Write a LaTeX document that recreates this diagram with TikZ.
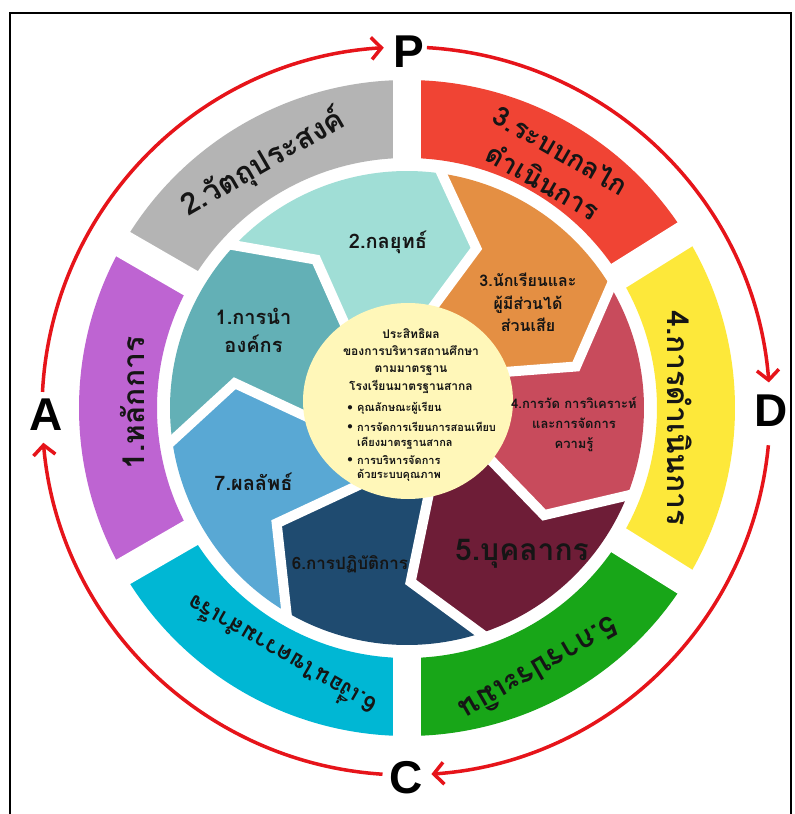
\documentclass[tikz,border=0pt]{standalone}
\usepackage{fontspec}
\setmainfont{Liberation Sans}
\newfontfamily\thai[Script=Thai]{Loma}
\usetikzlibrary{arrows.meta,calc}
\definecolor{cgray}{HTML}{B4B4B4}
\definecolor{cred}{HTML}{F04434}
\definecolor{cyellow}{HTML}{FDE83A}
\definecolor{cgreen}{HTML}{18A618}
\definecolor{ccyan}{HTML}{00B7D4}
\definecolor{cpurple}{HTML}{BE64D2}
\definecolor{iteal}{HTML}{63B0B6}
\definecolor{icyan}{HTML}{A0DED6}
\definecolor{iorange}{HTML}{E48F43}
\definecolor{ipink}{HTML}{C84B5C}
\definecolor{imaroon}{HTML}{6E1D37}
\definecolor{inavy}{HTML}{1F4B70}
\definecolor{iblue}{HTML}{59A8D4}
\definecolor{cyel}{HTML}{FFF7B9}
\definecolor{arrowred}{HTML}{E6141A}
\definecolor{ink}{HTML}{151515}
\begin{document}
\begin{tikzpicture}[x=1pt,y=1pt,
  outerlbl/.style={font=\thai\bfseries\fontsize{30}{36}\selectfont, text=ink, align=center, inner sep=0pt},
  innerlbl/.style={font=\thai\bfseries\fontsize{20}{28}\selectfont, text=ink, align=center, inner sep=0pt},
  midlbl/.style={font=\thai\bfseries\fontsize{16}{22.5}\selectfont, text=ink, align=center, inner sep=0pt},
  smalllbl/.style={font=\thai\bfseries\fontsize{13}{20}\selectfont, text=ink, align=center, inner sep=0pt},
  ctext/.style={font=\thai\bfseries\fontsize{12}{17.3}\selectfont, text=ink, inner sep=0pt},
  btext/.style={font=\thai\bfseries\fontsize{11}{16}\selectfont, text=ink, inner sep=0pt},
  letter/.style={font=\bfseries\fontsize{46}{46}\selectfont, text=black, inner sep=0pt},
  redarc/.style={draw=arrowred, line width=3.5pt, -{Straight Barb[length=10pt,width=22pt]}},
  gapline/.style={white, line width=28pt},
  sepline/.style={white, line width=10pt, line join=miter}
]
\fill[white] (-407,-406) rectangle (388,408);
\useasboundingbox (-407,-406) rectangle (388,408);
% frame
\draw[black, line width=2.5pt] (-397,-407) -- (-397,395) -- (384,395) -- (384,-407);

% outer ring
\foreach \c/\a/\b in {cgray/150/90, cred/90/32, cyellow/32/-32, cgreen/-32/-90, ccyan/-90/-150, cpurple/-150/-210}
  \fill[\c] (\a:328) arc (\a:\b:328) -- (\b:250) arc (\b:\a:250) -- cycle;
\foreach \g in {90,32,-32,-90,-150,150}
  \draw[gapline] (\g:243) -- (\g:340);

% inner ring of chevrons
\foreach \col/\oa/\ta/\ia/\ob/\tb/\ib in {
  iteal/189.2/171.8/183.6/137.9/121.5/126.5,
  icyan/137.9/121.5/126.5/82.8/66.5/75.4,
  iorange/82.8/66.5/75.4/32.1/13.8/20.1,
  ipink/32.1/13.8/20.1/-20.4/-38/-32.7,
  imaroon/-20.4/-38/-32.7/-70.6/-88.8/-80,
  inavy/-70.6/-88.8/-80/-119.2/-138.5/-126.9,
  iblue/-119.2/-138.5/-126.9/-170.8/-188.2/-176.4}
  \fill[\col] (\oa:237) arc (\oa:\ob:237) -- (\tb:174) -- ($(\tb:174)!1.6!(\ib:105)$) -- (0,0)
     -- ($(\ta:174)!1.6!(\ia:105)$) -- (\ta:174) -- cycle;
\foreach \o/\t/\i in {189.2/171.8/183.6, 137.9/121.5/126.5, 82.8/66.5/75.4, 32.1/13.8/20.1,
  -20.4/-38/-32.7, -70.6/-88.8/-80, -119.2/-138.5/-126.9}
  \draw[sepline] (\o:245) -- (\t:174) -- ($(\t:174)!1.6!(\i:105)$);

% centre
\fill[cyel] (1,7) ellipse [x radius=105, y radius=98];

% centre text
\node[ctext, align=center] (head) at (4,47) {ประสิทธิผล\\ของการบริหารสถานศึกษา\\ตามมาตรฐาน\\โรงเรียนมาตรฐานสากล};
\node[btext] (d1) at (-57,0) {$\bullet$};
\node[btext, anchor=west] (t1) at (-50,0) {คุณลักษณะผู้เรียน};
\node[btext] (d2) at (-57,-19) {$\bullet$};
\node[btext, anchor=west] (t2) at (-50,-19) {การจัดการเรียนการสอนเทียบ};
\node[btext, anchor=west] (t2b) at (-50,-35) {เคียงมาตรฐานสากล};
\node[btext] (d3) at (-57,-52) {$\bullet$};
\node[btext, anchor=west] (t3) at (-50,-52) {การบริหารจัดการ};
\node[btext, anchor=west] (t3b) at (-50,-67) {ด้วยระบบคุณภาพ};

% inner labels
\node[innerlbl] (i1) at (-153.5,78) {1.การนำ\\องค์กร};
\node[innerlbl] (i2) at (-19,165.5) {2.กลยุทธ์};
\node[midlbl] (i3) at (121,105.5) {3.นักเรียนและ\\ผู้มีส่วนได้\\ส่วนเสีย};
\node[smalllbl] (i4) at (167,-16) {4.การวัด การวิเคราะห์\\และการจัดการ\\ความรู้};
\node[innerlbl, font=\thai\bfseries\fontsize{30}{34}\selectfont] (i5) at (115,-146) {5.บุคลากร};
\node[smalllbl, font=\thai\bfseries\fontsize{17}{20}\selectfont] (i6) at (-57,-156) {6.การปฏิบัติการ};
\node[innerlbl] (i7) at (-153.5,-74) {7.ผลลัพธ์};

% outer labels
\node[outerlbl, rotate=30] (o2) at (-144,245) {2.วัตถุประสงค์};
\node[outerlbl, rotate=-30, font=\thai\bfseries\fontsize{27}{36}\selectfont] (o3) at (145,242) {3.ระบบกลไก\\ดำเนินการ};
\node[outerlbl, rotate=-90] (o4) at (273,-10) {4.การดำเนินการ};
\node[outerlbl, rotate=210] (o5) at (133,-262) {5.การประเมิน};
\node[outerlbl, rotate=150, font=\thai\bfseries\fontsize{23}{28}\selectfont] (o6) at (-127,-249) {6.เงื่อนไขความสำเร็จ};
\node[outerlbl, rotate=90] (o1) at (-275,5) {1.หลักการ};

% PDCA cycle
\node[letter] (P) at (1.5,356.5) {P};
\node[letter] (D) at (364,-2.5) {D};
\node[letter] (C) at (-0.5,-370) {C};
\node[letter] (A) at (-361,-6.5) {A};
\begin{scope}[shift={(-1,-3)}]
  \draw[redarc] (177:364) arc (177:93.5:364);
  \draw[redarc] (86.7:364) arc (86.7:4.5:364);
  \draw[redarc] (-5.4:364) arc (-5.4:-86:364);
  \draw[redarc] (-93.7:364) arc (-93.7:-175:364);
\end{scope}
\end{tikzpicture}
\end{document}
